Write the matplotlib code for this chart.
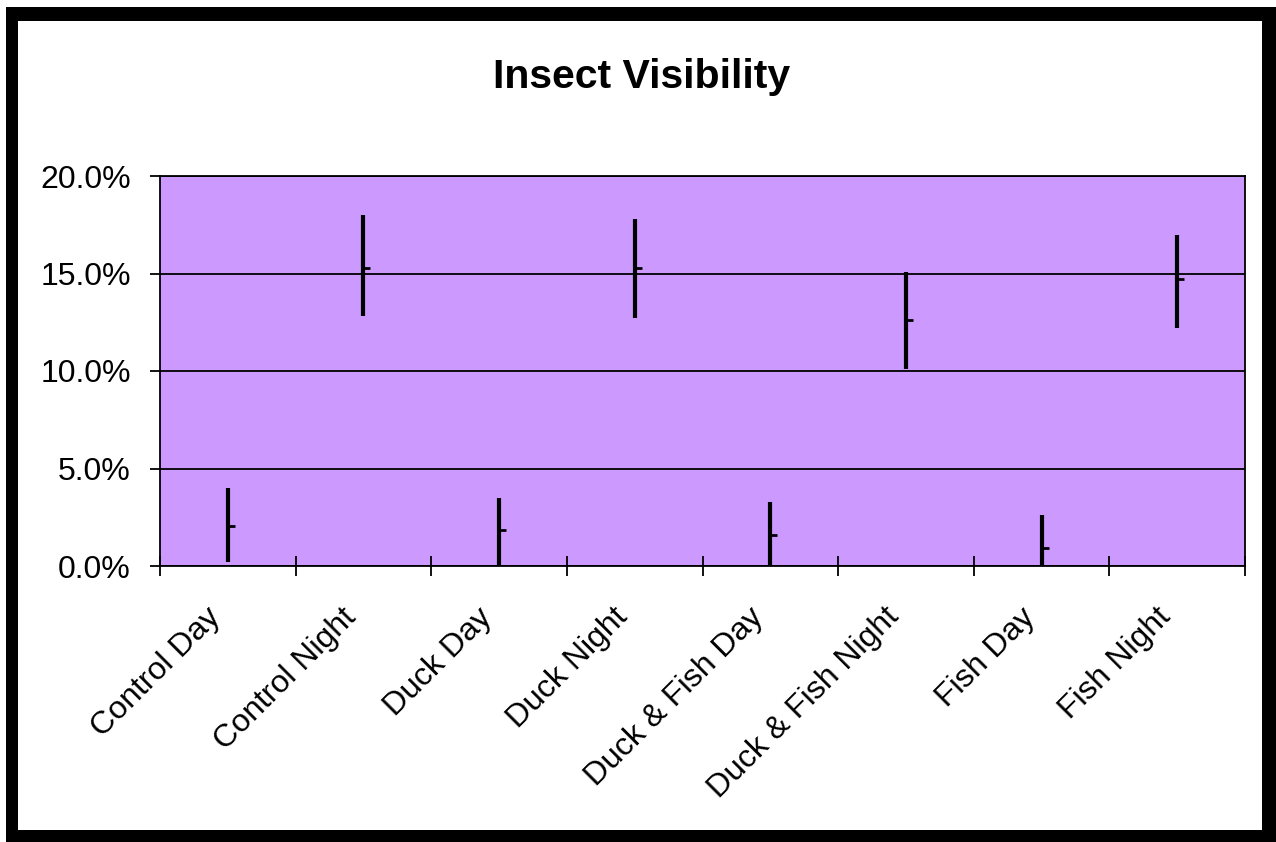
import numpy as np
import matplotlib.pyplot as plt
from matplotlib.patches import Rectangle
from matplotlib.ticker import FuncFormatter, FixedLocator
from matplotlib.transforms import ScaledTranslation

plt.rcParams['font.family'] = ['Liberation Sans', 'DejaVu Sans']

# Data (percent)
categories = ['Control Day', 'Control Night', 'Duck Day', 'Duck Night',
              'Duck & Fish Day', 'Duck & Fish Night', 'Fish Day', 'Fish Night']
high = [4.0, 18.0, 3.5, 17.8, 3.3, 15.1, 2.6, 17.0]
low = [0.2, 12.8, 0.0, 12.7, 0.0, 10.1, 0.0, 12.2]
mean = [2.05, 15.3, 1.85, 15.3, 1.6, 12.6, 0.9, 14.7]

W, H = 1276, 842
fig = plt.figure(figsize=(W / 100, H / 100), dpi=100)
fig.patch.set_facecolor('white')

# black frame around the chart
def px_rect(x0, y0, x1, y1, color):
    fig.add_artist(Rectangle((x0 / W, 1 - y1 / H), (x1 - x0) / W, (y1 - y0) / H,
                             transform=fig.transFigure, facecolor=color,
                             edgecolor='none', zorder=-10))

px_rect(6, 7, W, H, 'black')
px_rect(18, 21, 1262, 830, 'white')

ax = fig.add_axes([160 / W, 1 - 566 / H, (1245 - 160) / W, (566 - 176) / H])
ax.set_facecolor('#CC99FF')

x = np.arange(len(categories))
ax.vlines(x, low, high, color='black', linewidth=3, zorder=3)
ax.plot(x, mean, linestyle='none', marker=1, markersize=5, markeredgewidth=2,
        color='black', zorder=4)

ax.set_xlim(-0.5, len(categories) - 0.5)
ax.set_ylim(0, 20)
ax.set_yticks([0, 5, 10, 15, 20])
ax.yaxis.set_major_formatter(FuncFormatter(lambda v, p: f'{v:.1f}%'))
ax.grid(axis='y', color='black', linewidth=1.3)
ax.set_axisbelow(True)

ax.set_xticks(x)
ax.set_xticklabels(categories, rotation=45, ha='right', rotation_mode='anchor',
                   fontsize=23)
ax.tick_params(axis='x', which='major', length=0, pad=26)
shift = ScaledTranslation(-22 / 100, 0, fig.dpi_scale_trans)
for lab in ax.get_xticklabels():
    lab.set_transform(lab.get_transform() + shift)
ax.xaxis.set_minor_locator(FixedLocator(np.arange(-0.5, len(categories), 1.0)))
ax.tick_params(axis='x', which='minor', direction='inout', length=14, width=1.3,
               color='black')
ax.tick_params(axis='y', direction='out', length=7, width=1.3, pad=14,
               labelsize=23, color='black')

for s in ax.spines.values():
    s.set_color('black')
    s.set_linewidth(1.3)

fig.text(641.5 / W, 1 - 88 / H, 'Insect Visibility', ha='center', va='baseline',
         fontsize=29.5, fontweight='bold')

fig.savefig('out.png', dpi=100)
